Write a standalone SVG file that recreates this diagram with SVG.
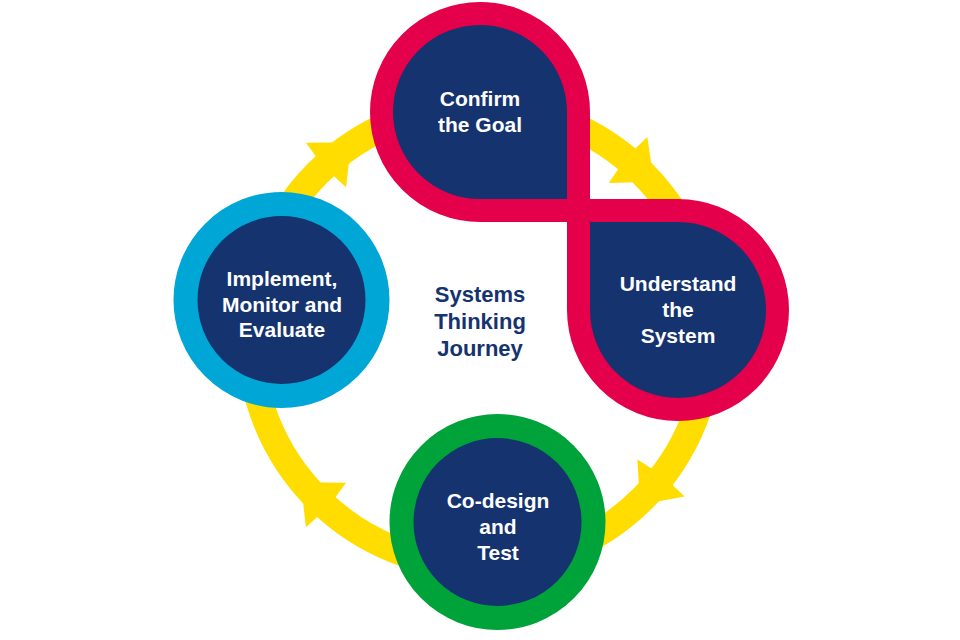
<svg xmlns="http://www.w3.org/2000/svg" width="960" height="640" viewBox="0 0 960 640">
<style>
.lbl{font-family:"Liberation Sans",Arial,sans-serif;font-weight:bold;font-size:21px;fill:#FFFFFF;text-anchor:middle}
.ctr{font-family:"Liberation Sans",Arial,sans-serif;font-weight:bold;font-size:22px;fill:#15336F;text-anchor:middle}
.navy{fill:#15336F}
.star{fill:#FFDD00}
</style>
<defs>
<polygon id="arrowhead" points="34,0 0,-30 -3,0 0,30"/>
</defs>
<rect width="960" height="640" fill="#FFFFFF"/>
<g id="connectors">
<circle cx="480" cy="336" r="230" fill="none" stroke="#FFDD00" stroke-width="27"/>
<use href="#arrowhead" class="star" transform="translate(326,165) rotate(-42)"/>
<use href="#arrowhead" class="star" transform="translate(628,160) rotate(40)"/>
<use href="#arrowhead" class="star" transform="translate(661,478) rotate(128)"/>
<use href="#arrowhead" class="star" transform="translate(326,505) rotate(222)"/>
</g>
<g id="figure-eight">
<path class="navy" d="M578.5 210.5 H480 A98.5 98.5 0 0 1 381.5 112 A98.5 98.5 0 0 1 480 13.5 A98.5 98.5 0 0 1 578.5 112 Z"/>
<path class="navy" d="M578.5 210.5 H678 A99.5 99.5 0 0 1 777.5 310 A99.5 99.5 0 0 1 678 409.5 A99.5 99.5 0 0 1 578.5 310 Z"/>
<path fill="none" stroke="#E4004B" stroke-width="23" stroke-linejoin="miter" d="M578.5 210.5 H480 A98.5 98.5 0 0 1 381.5 112 A98.5 98.5 0 0 1 480 13.5 A98.5 98.5 0 0 1 578.5 112 Z"/>
<path fill="none" stroke="#E4004B" stroke-width="23" stroke-linejoin="miter" d="M578.5 210.5 H678 A99.5 99.5 0 0 1 777.5 310 A99.5 99.5 0 0 1 678 409.5 A99.5 99.5 0 0 1 578.5 310 Z"/>
</g>
<g id="confirm-goal">
<text class="lbl" x="480" y="106">Confirm</text>
<text class="lbl" x="480" y="132">the Goal</text>
</g>
<g id="understand-system">
<text class="lbl" x="678" y="291">Understand</text>
<text class="lbl" x="678" y="317">the</text>
<text class="lbl" x="678" y="343">System</text>
</g>
<g id="co-design-test">
<circle cx="497.5" cy="522" r="96" class="navy" stroke="#00A23A" stroke-width="24"/>
<text class="lbl" x="498" y="508">Co-design</text>
<text class="lbl" x="498" y="534">and</text>
<text class="lbl" x="498" y="560">Test</text>
</g>
<g id="implement-monitor-evaluate">
<circle cx="281.5" cy="300" r="96" class="navy" stroke="#00A6D6" stroke-width="24"/>
<text class="lbl" x="282" y="286">Implement,</text>
<text class="lbl" x="282" y="312">Monitor and</text>
<text class="lbl" x="282" y="337">Evaluate</text>
</g>
<g id="center-title">
<text class="ctr" x="480" y="302">Systems</text>
<text class="ctr" x="480" y="329">Thinking</text>
<text class="ctr" x="480" y="356">Journey</text>
</g>
</svg>
